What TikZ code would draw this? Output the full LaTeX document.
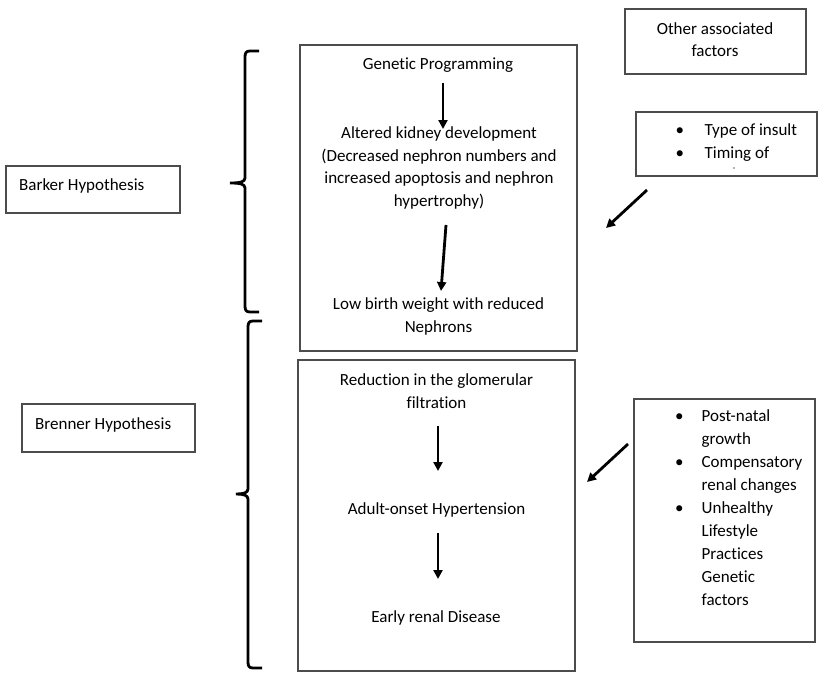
\documentclass[tikz,border=0pt]{standalone}
\usepackage{fontspec}
\setmainfont{Carlito}[Ligatures=NoCommon]
\usetikzlibrary{arrows.meta}
\begin{document}
\begin{tikzpicture}[x=1pt,y=-1pt,
  box/.style={draw=black!70,line width=1.1pt},
  txt/.style={font=\fontsize{17}{22.6}\selectfont,align=center,inner sep=0pt,yshift=-1.5pt},
  ltxt/.style={font=\fontsize{17}{22.9}\selectfont,align=left,inner sep=0pt,yshift=-1.5pt},
  flow/.style={line width=2.8pt,-{Triangle[length=9pt,width=9pt]}},
  brace/.style={line width=2.8pt,line cap=butt,line join=round}]
\useasboundingbox (0,0) rectangle (829,686);
\fill[white] (0,0) rectangle (829,686);
% boxes
\node[box,minimum width=174pt,minimum height=47pt,inner sep=0pt] (barker) at (93,189.5) {};
\node[box,minimum width=173pt,minimum height=48pt,inner sep=0pt] (brenner) at (108.5,428) {};
\node[box,minimum width=277pt,minimum height=306pt,inner sep=0pt] (topbox) at (438.5,198) {};
\node[box,minimum width=277pt,minimum height=311pt,inner sep=0pt] (botbox) at (436.5,515.5) {};
\node[box,minimum width=181pt,minimum height=65pt,inner sep=0pt] (other) at (715.5,41.5) {};
\node[box,minimum width=181pt,minimum height=64pt,inner sep=0pt] (insult) at (726.5,144) {};
\node[box,minimum width=181pt,minimum height=243pt,inner sep=0pt] (postnatal) at (724.5,520.5) {};
% texts
\node[txt,anchor=west] (barkert) at (19,184) {Barker Hypothesis};
\node[txt,anchor=west] (brennert) at (35,423) {Brenner Hypothesis};
\node[txt] (othert) at (715,38) {Other associated\\factors};
\node[txt] (gp) at (438,64) {Genetic Programming};
\node[txt] (akd) at (439,166.5) {Altered kidney development\\(Decreased nephron numbers and\\increased apoptosis and nephron\\hypertrophy)};
\node[txt] (lbw) at (438.5,315) {Low birth weight with reduced\\Nephrons};
\node[txt] (rgf) at (436.5,389.5) {Reduction in the glomerular\\filtration};
\node[txt] (aoh) at (436.5,508) {Adult-onset Hypertension};
\node[txt] (erd) at (436,616) {Early renal Disease};
\node[ltxt,anchor=west] (insultt) at (675.5,141) {%
  \begin{tabular}{@{}c@{\hspace{20.5pt}}l@{}}
  \textbullet & Type of insult\\
  \textbullet & Timing of
  \end{tabular}};
\node[ltxt,anchor=west] (postt) at (675,507.5) {%
  \begin{tabular}{@{}c@{\hspace{18pt}}l@{}}
  \textbullet & Post-natal\\
   & growth\\
  \textbullet & Compensatory\\
   & renal changes\\
  \textbullet & Unhealthy\\
   & Lifestyle\\
   & Practices\\
   & Genetic\\
   & factors
  \end{tabular}};
\fill[black!60] (734,168) circle (0.8pt);
% arrow endpoints
\coordinate (a1s) at (443,83);  \coordinate (a1e) at (443,129);
\coordinate (a2s) at (446,225); \coordinate (a2e) at (441,291);
\coordinate (a3s) at (438,426); \coordinate (a3e) at (438,471);
\coordinate (a4s) at (438,533); \coordinate (a4e) at (438,579);
\coordinate (a5s) at (647,190); \coordinate (a5e) at (606,228);
\coordinate (a6s) at (628,444); \coordinate (a6e) at (587,482);
\draw[flow] (a1s) -- (a1e);
\draw[flow] (a2s) -- (a2e);
\draw[flow] (a3s) -- (a3e);
\draw[flow] (a4s) -- (a4e);
\draw[flow] (a5s) -- (a5e);
\draw[flow] (a6s) -- (a6e);
% braces
\coordinate (b1t) at (259,51); \coordinate (b1m) at (230,183); \coordinate (b1b) at (259,312);
\draw[brace] (b1t) -- (250,51) .. controls (246,51) and (245,53) .. (245,57)
  -- (245,178) .. controls (245,182) and (240,183) .. (b1m)
  (b1m) .. controls (240,183) and (245,184) .. (245,188)
  -- (245,306) .. controls (245,310) and (246,312) .. (250,312) -- (b1b);
\coordinate (b2t) at (262,321); \coordinate (b2m) at (236,494); \coordinate (b2b) at (262,668);
\draw[brace] (b2t) -- (253,321) .. controls (249,321) and (248,323) .. (248,327)
  -- (248,489) .. controls (248,493) and (243,494) .. (b2m)
  (b2m) .. controls (243,494) and (248,495) .. (248,499)
  -- (248,662) .. controls (248,666) and (249,668) .. (253,668) -- (b2b);
\end{tikzpicture}
\end{document}
